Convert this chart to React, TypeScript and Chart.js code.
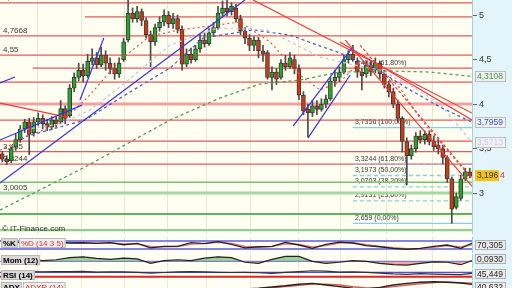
import React, { useEffect, useRef } from 'react';
import { Chart, registerables } from 'chart.js';
Chart.register(...registerables);

// ---------- DATA ----------
const candleOpen = [3.44,3.38,3.36,3.52,3.60,3.72,3.80,3.68,3.80,3.84,3.78,3.74,3.82,3.80,3.95,3.87,4.18,4.30,4.38,4.32,4.48,4.52,4.44,4.55,4.46,4.40,4.34,4.50,4.72,5.02,4.96,5.04,4.94,4.78,4.70,4.86,4.92,5.00,4.90,4.96,4.84,4.45,4.56,4.50,4.62,4.72,4.68,4.80,4.86,5.02,5.08,5.04,5.08,4.96,4.82,4.74,4.66,4.72,4.60,4.58,4.30,4.36,4.30,4.46,4.42,4.50,4.40,4.10,3.94,3.90,3.98,3.94,4.00,4.06,4.26,4.30,4.36,4.50,4.56,4.48,4.36,4.34,4.44,4.38,4.46,4.34,4.22,4.14,4.00,3.84,3.58,3.42,3.50,3.64,3.60,3.66,3.58,3.54,3.50,3.40,3.16,2.84,2.94,3.16,3.24];
const candleHigh = [3.47,3.42,3.52,3.66,3.76,3.83,3.84,3.85,3.90,3.88,3.83,3.86,3.86,4.04,3.98,4.22,4.35,4.46,4.45,4.56,4.62,4.58,4.64,4.60,4.52,4.46,4.52,4.74,5.20,5.08,5.10,5.07,4.97,4.82,4.90,4.98,5.06,5.04,5.02,5.00,4.88,4.62,4.63,4.66,4.78,4.80,4.85,4.92,5.10,5.16,5.20,5.14,5.12,5.00,4.86,4.78,4.76,4.75,4.66,4.60,4.42,4.40,4.50,4.55,4.58,4.55,4.44,4.14,4.00,4.04,4.04,4.06,4.10,4.30,4.38,4.42,4.55,4.60,4.66,4.52,4.40,4.48,4.48,4.52,4.48,4.38,4.26,4.18,4.04,3.86,3.62,3.54,3.68,3.70,3.70,3.70,3.64,3.60,3.54,3.42,3.18,3.00,3.20,3.28,3.28];
const candleLow = [3.35,3.32,3.34,3.48,3.57,3.68,3.43,3.64,3.76,3.72,3.70,3.71,3.74,3.78,3.78,3.85,4.14,4.26,4.25,4.30,4.44,4.40,4.42,4.38,4.34,4.28,4.30,4.48,4.70,4.92,4.92,4.88,4.74,4.42,4.66,4.82,4.88,4.86,4.85,4.80,4.38,4.42,4.46,4.48,4.58,4.64,4.66,4.76,4.84,4.98,4.99,5.00,4.92,4.78,4.68,4.60,4.60,4.52,4.48,4.28,4.16,4.22,4.28,4.38,4.40,4.34,4.05,3.88,3.63,3.86,3.88,3.92,3.96,4.04,4.20,4.25,4.34,4.46,4.48,4.30,4.16,4.30,4.32,4.35,4.28,4.18,4.08,3.96,3.80,3.46,3.09,3.38,3.46,3.56,3.55,3.54,3.48,3.44,3.33,3.12,2.66,2.82,2.92,3.14,3.17];
const candleClose = [3.38,3.35,3.50,3.60,3.72,3.80,3.66,3.80,3.84,3.78,3.74,3.82,3.78,3.95,3.84,4.18,4.30,4.38,4.32,4.48,4.52,4.44,4.55,4.46,4.40,4.34,4.46,4.70,5.02,4.96,5.04,4.94,4.78,4.70,4.86,4.92,5.00,4.90,4.96,4.84,4.45,4.56,4.50,4.62,4.72,4.68,4.80,4.86,5.02,5.08,5.04,5.10,4.96,4.82,4.74,4.66,4.72,4.60,4.56,4.30,4.36,4.28,4.46,4.42,4.52,4.40,4.10,3.92,3.90,3.98,3.94,4.00,4.06,4.26,4.30,4.36,4.50,4.56,4.50,4.36,4.32,4.44,4.36,4.46,4.34,4.22,4.14,4.00,3.84,3.58,3.42,3.50,3.64,3.60,3.66,3.58,3.52,3.50,3.40,3.16,2.82,2.96,3.16,3.24,3.196];

const priceTicks = [3, 3.5, 4, 4.5, 5];
const timeGrid = [7.9, 17.7, 27.3, 36.8, 45.5, 55.3, 66, 75.3, 85.5, 95.7];

const resistanceLevels = [5.1366, 4.98, 4.7668, 4.55, 4.404, 4.248, 4.0, 3.821, 3.584, 3.465, 3.3244];
const resistanceFrom = [-0.5, 18.4, -0.5, -0.5, 6.8, -0.5, -0.5, -0.5, -0.5, -0.5, -0.5];
const supportLevels = [3.123, 3.0005, 2.764, 2.584];
const levelLabelValues = [5.1366, 4.7668, 4.55, 3.465, 3.3244, 3.0005];
const levelLabelTexts = ['5,1366', '4,7668', '4,55', '3,465', '3,3244', '3,0005'];

const fibLevels = [3.7356, 3.3244, 3.1973, 3.0703, 2.9131, 2.659];
const fibTexts = ['3,7356 (100,00%)', '3,3244 (61,80%)', '3,1973 (50,00%)', '3,0703 (38,20%)', '2,9131 (23,60%)', '2,659 (0,00%)'];
const fibStart = 78;
const fibExtraValue = 4.404;
const fibExtraText = '4,4040 (61,80%)';

const maLongX = [-0.5, 18.4, 37.3, 48.4, 57.3, 66.2, 75.1, 86.3, 95.2, 104.5];
const maLongY = [2.809, 3.292, 3.821, 4.068, 4.225, 4.270, 4.360, 4.372, 4.360, 4.3108];
const maMidX = [3.95, 18.4, 28.4, 37.3, 44.7, 55.8, 64.0, 75.1, 82.5, 90.0, 97.4, 104.5];
const maMidY = [3.618, 3.821, 4.135, 4.405, 4.743, 4.833, 4.776, 4.574, 4.417, 4.180, 3.967, 3.7959];
const maFastX = [3.95, 12.85, 19.5, 26.2, 37.3, 47.8, 58.9, 70.7, 77.4, 84.0, 90.7, 97.4, 104.5];
const maFastY = [3.708, 3.776, 3.933, 4.192, 4.664, 4.855, 4.833, 4.529, 4.450, 4.383, 4.214, 4.0, 3.5713];
const maShortX = [-0.5, 6.2, 12.8, 19.5, 26.2, 32.9, 39.5, 46.2, 52.9, 59.6, 66.2, 70.7, 75.1, 79.6, 84.0, 88.5, 92.9, 97.4, 101.8, 104.5];
const maShortY = [3.483, 3.652, 3.776, 4.102, 4.495, 4.765, 4.833, 4.878, 4.923, 4.698, 4.327, 4.158, 4.248, 4.473, 4.405, 4.180, 3.843, 3.573, 3.315, 3.168];

const blueTrendlines = [
  [-0.5, 4.237, 2.84, 4.304],
  [-0.5, 3.112, 54.0, 5.17],
  [-0.5, 3.596, 17.74, 3.989],
  [17.3, 4.046, 22.6, 4.743],
  [64.7, 3.753, 77.8, 4.630],
  [68.0, 3.618, 77.4, 4.327],
];
const redTrendlines = [
  [-0.5, 4.012, 14.4, 3.854],
  [55.8, 5.17, 104.5, 3.899],
  [75.1, 4.698, 104.5, 3.821],
  [76.3, 4.72, 104.5, 3.078],
];
const redDashedTrendlines = [[79.6, 4.664, 104.5, 3.168]];

const maBoxValues = [4.3108, 3.7959, 3.5713];
const maBoxTexts = ['4,3108', '3,7959', '3,5713'];
const lastPrice = 3.196;
const lastPriceText = '3,196';
const lastPriceSuffix = '4';

const indicatorX = [0,3,6,9,12,15,18,21,24,27,30,33,36,39,42,45,48,51,54,57,60,63,66,69,72,75,78,81,84,87,90,93,96,99,102,105];
const stochK = [60,70,75,65,72,65,67,62,68,52,62,28,40,40,68,60,75,55,28,37,40,70,50,25,55,72,65,45,37,25,18,25,40,50,25,72];
const stochD = [62,66,72,70,70,68,66,64,66,58,58,40,36,38,55,62,70,62,40,33,38,58,55,35,45,65,68,52,40,30,22,22,32,45,35,55];
const stochLevels = [80, 20];
const momentum = [0.1,0.1,0.12,0.05,0.1,0.23,0.28,0.19,0.12,0.2,0.15,-0.12,0.05,0.1,0.05,0.2,0.28,0.23,-0.05,-0.12,0.12,0.3,0.3,0,-0.12,-0.05,0.05,0,-0.12,-0.19,-0.22,-0.12,-0.03,-0.05,-0.2,0.09];
const rsi = [72,74,76,75,77,76,78,72,75,74,70,62,68,74,76,74,70,68,70,66,60,70,76,84,80,72,74,70,62,55,52,58,54,52,48,62];
const rsiLevels = [70, 30];
const adx = [30,28,25,22,20,22,25,28,30,28,25,22,20,18,20,22,25,28,30,32,35,38,42,44,40,36,32,30,34,40,44,47,48,47,45,41];
const adxr = [28,27,26,24,22,21,22,25,28,29,27,24,21,19,19,21,23,26,29,31,33,36,39,42,42,40,36,33,33,36,40,43,46,47,46,44];

// ---------- STYLE ----------
const X_MIN = -0.5;
const X_MAX = 104.5;
const PLOT_BG = '#fefef1';
const GRID = '#ebe7d6';
const FONT = 'Liberation Sans';
const resistanceColors = ['#e65a5a','#e65a5a','#e65a5a','#e65a5a','#e65a5a','#e65a5a','#f2a0a0','#e65a5a','#e65a5a','#e65a5a','#e65a5a'];
const resistanceWidths = [1.3,1.3,1.3,1.3,1.3,1.3,3,1.3,1.3,1.3,1.3];
const supportColors = ['#78c078', '#a6d8a6', '#2e982e', '#92cf92'];
const supportWidths = [1.5, 3, 1.6, 2.2];
const fibDashed = [false, true, true, true, true, false];

const seg = (x1: number, y1: number, x2: number, y2: number) => [{ x: x1, y: y1 }, { x: x2, y: y2 }];
const pts = (xs: number[], ys: number[]) => xs.map((x, i) => ({ x, y: ys[i] }));

const xAxis = () => ({
  type: 'linear', min: X_MIN, max: X_MAX, offset: false,
  afterBuildTicks: (s: any) => { s.ticks = timeGrid.map((v) => ({ value: v })); },
  ticks: { display: false },
  grid: { color: GRID, drawTicks: false, offset: false, lineWidth: 1 },
  border: { display: false },
  afterFit: (s: any) => { s.height = 0; s.paddingLeft = 0; s.paddingRight = 0; s.paddingTop = 0; s.paddingBottom = 0; },
});

function lineDs(data: any[], color: string, width: number, dash: number[] = [], order = 0, extra: any = {}) {
  return { type: 'line', data, borderColor: color, borderWidth: width, borderDash: dash, pointRadius: 0, fill: false, tension: 0, order, ...extra };
}

function bgPlugin(id: string) {
  return {
    id,
    beforeDraw(chart: any) {
      const { ctx, chartArea: a } = chart;
      ctx.save();
      ctx.fillStyle = PLOT_BG;
      ctx.fillRect(a.left, a.top, a.right - a.left, a.bottom - a.top);
      ctx.restore();
    },
  };
}

function drawBox(ctx: any, x: number, yc: number, text: string, color: string, bg: string, border: string | null, w = 31, h = 11) {
  ctx.fillStyle = bg;
  ctx.fillRect(x, yc - h / 2, w, h);
  if (border) {
    ctx.strokeStyle = border;
    ctx.lineWidth = 1;
    ctx.strokeRect(x + 0.5, Math.round(yc - h / 2) + 0.5, w - 1, h - 1);
  }
  ctx.fillStyle = color;
  ctx.textBaseline = 'middle';
  ctx.textAlign = 'left';
  ctx.fillText(text, x + 2, yc + 0.5);
}

const mainOverlay = {
  id: 'mainOverlay',
  beforeDatasetsDraw(chart: any) {
    const { ctx, chartArea: a, scales } = chart;
    const y = scales.y, x = scales.x;
    ctx.save();
    ctx.font = `8px "${FONT}"`;
    ctx.fillStyle = '#3a3a3a';
    ctx.textBaseline = 'bottom';
    levelLabelValues.forEach((v, i) => ctx.fillText(levelLabelTexts[i], a.left + 3, y.getPixelForValue(v) - 1));
    ctx.font = `7px "${FONT}"`;
    const fx = x.getPixelForValue(fibStart) + 2;
    fibLevels.forEach((v, i) => ctx.fillText(fibTexts[i], fx, y.getPixelForValue(v) - 2));
    ctx.fillText(fibExtraText, fx, y.getPixelForValue(fibExtraValue) - 2);
    ctx.restore();
  },
  afterDraw(chart: any) {
    const { ctx, chartArea: a, scales } = chart;
    const y = scales.y;
    ctx.save();
    ctx.font = `8px "${FONT}"`;
    ctx.fillStyle = '#333';
    ctx.textBaseline = 'bottom';
    ctx.fillText('© IT-Finance.com', a.left + 2, a.bottom - 1);
    ctx.font = `8.5px "${FONT}"`;
    const colors = ['#3d9a4f', '#3552c4', '#c9c9ee'];
    maBoxValues.forEach((v, i) => drawBox(ctx, a.right + 3, y.getPixelForValue(v), maBoxTexts[i], colors[i], '#f1f1f1', '#bdbdbd'));
    const ly = y.getPixelForValue(lastPrice);
    drawBox(ctx, a.right + 3, ly, lastPriceText, '#333', '#f4c414', null, 24, 11);
    ctx.fillStyle = '#e02020';
    ctx.fillText(lastPriceSuffix, a.right + 28, ly + 0.5);
    ctx.restore();
  },
};

function mainConfig(): any {
  const datasets: any[] = [];
  resistanceLevels.forEach((v, i) => datasets.push(lineDs(seg(resistanceFrom[i], v, X_MAX, v), resistanceColors[i], resistanceWidths[i], [], 5)));
  supportLevels.forEach((v, i) => datasets.push(lineDs(seg(X_MIN, v, X_MAX, v), supportColors[i], supportWidths[i], [], 5)));
  fibLevels.forEach((v, i) => datasets.push(lineDs(seg(fibStart, v, X_MAX, v), '#8ccbee', 1.3, fibDashed[i] ? [4, 3] : [], 4)));
  datasets.push({
    type: 'bar', grouped: false, order: 3, barThickness: 1,
    data: candleOpen.map((_, i) => ({ x: i, y: [candleLow[i], candleHigh[i]] })),
    backgroundColor: '#4a4a4a', borderWidth: 0,
  });
  datasets.push({
    type: 'bar', grouped: false, order: 2, barThickness: 4,
    data: candleOpen.map((o, i) => ({ x: i, y: [Math.min(o, candleClose[i]), Math.max(o, candleClose[i])] })),
    backgroundColor: candleOpen.map((o, i) => (candleClose[i] >= o ? '#25a825' : '#cf3a14')),
    borderColor: '#3a3a3a', borderWidth: 1, borderSkipped: false,
  });
  datasets.push(lineDs(pts(maLongX, maLongY), '#4f9d5f', 1.3, [3, 3], 1));
  datasets.push(lineDs(pts(maFastX, maFastY), '#c4c6ef', 1.3, [3, 3], 1));
  datasets.push(lineDs(pts(maMidX, maMidY), '#4563c4', 1.3, [3, 3], 1));
  datasets.push(lineDs(pts(maShortX, maShortY), '#e65050', 1.2, [2, 3], 1));
  blueTrendlines.forEach((t) => datasets.push(lineDs(seg(t[0], t[1], t[2], t[3]), '#3434e6', 1.2, [], 0)));
  redTrendlines.forEach((t) => datasets.push(lineDs(seg(t[0], t[1], t[2], t[3]), '#f03a3a', 1.2, [], 0)));
  redDashedTrendlines.forEach((t) => datasets.push(lineDs(seg(t[0], t[1], t[2], t[3]), '#f03a3a', 1.2, [3, 2], 0)));
  return {
    type: 'bar',
    data: { datasets },
    options: {
      responsive: false, animation: false, events: [],
      layout: { padding: 0 },
      plugins: { legend: { display: false }, tooltip: { enabled: false } },
      scales: {
        x: xAxis(),
        y: {
          position: 'right', min: 2.54, max: 5.17,
          afterBuildTicks: (s: any) => { s.ticks = priceTicks.map((v) => ({ value: v })); },
          ticks: { callback: (v: any) => String(v).replace('.', ','), color: '#333', font: { family: FONT, size: 9 }, padding: 2 },
          grid: { drawOnChartArea: false, tickLength: 5, color: '#666' },
          border: { color: '#9fd0e2' },
          afterFit: (s: any) => { s.width = 40; s.paddingTop = 0; s.paddingBottom = 0; },
        },
      },
    },
    plugins: [bgPlugin('mainBg'), mainOverlay],
  };
}

function panelConfig(datasets: any[], yMin: number, yMax: number, labels: any[], valueText: string, boxOffset: number): any {
  const overlay = {
    id: 'panelOverlay',
    afterDraw(chart: any) {
      const { ctx, chartArea: a } = chart;
      ctx.save();
      let x = a.left + 1;
      labels.forEach((l) => {
        ctx.font = `${l.bold ? 'bold ' : ''}8px "${FONT}"`;
        const w = ctx.measureText(l.text).width + 4;
        ctx.fillStyle = l.bg;
        ctx.fillRect(x, a.top + 1, w, 10);
        ctx.strokeStyle = '#b8b8b8';
        ctx.lineWidth = 1;
        ctx.strokeRect(x + 0.5, a.top + 1.5, w - 1, 9);
        ctx.fillStyle = l.color;
        ctx.textBaseline = 'middle';
        ctx.fillText(l.text, x + 2, a.top + 6.5);
        x += w + 1;
      });
      ctx.font = `8.5px "${FONT}"`;
      drawBox(ctx, a.right + 3, a.top + boxOffset, valueText, '#222', '#ececec', '#b0b0b0', 31, 10);
      ctx.restore();
    },
  };
  return {
    type: 'line',
    data: { datasets },
    options: {
      responsive: false, animation: false, events: [],
      layout: { padding: 0 },
      plugins: { legend: { display: false }, tooltip: { enabled: false } },
      scales: {
        x: xAxis(),
        y: {
          position: 'right', min: yMin, max: yMax,
          ticks: { display: false },
          grid: { drawOnChartArea: false, drawTicks: false },
          border: { color: '#9fd0e2' },
          afterFit: (s: any) => { s.width = 40; s.paddingTop = 0; s.paddingBottom = 0; },
        },
      },
    },
    plugins: [bgPlugin('panelBg'), overlay],
  };
}

export default function App() {
  const mainRef = useRef<HTMLCanvasElement>(null);
  const stochRef = useRef<HTMLCanvasElement>(null);
  const momRef = useRef<HTMLCanvasElement>(null);
  const rsiRef = useRef<HTMLCanvasElement>(null);
  const adxRef = useRef<HTMLCanvasElement>(null);

  useEffect(() => {
    document.body.style.margin = '0';
    const charts: Chart[] = [];
    charts.push(new Chart(mainRef.current as any, mainConfig()));

    const stochDs = [
      ...stochLevels.map((v) => lineDs(seg(X_MIN, v, X_MAX, v), '#5a5ae6', 1.4, [], 2)),
      lineDs(pts(indicatorX, stochD), '#ec7474', 1.4, [], 1),
      lineDs(pts(indicatorX, stochK), '#222', 1.3, [], 0),
    ];
    charts.push(new Chart(stochRef.current as any, panelConfig(stochDs, -10, 110,
      [{ text: '%K', color: '#000', bg: '#d9d9d9', bold: true }, { text: '%D (14 3 5)', color: '#e03030', bg: '#f1eeee', bold: false }], '70,305', 8)));

    const momDs = [
      lineDs(seg(X_MIN, 0, X_MAX, 0), '#7a7aee', 1.4, [], 2),
      lineDs(pts(indicatorX, momentum), '#222', 1.2, [], 0, {
        fill: { target: { value: 0 }, above: 'rgba(96,178,96,0.6)', below: 'rgba(232,110,110,0.6)' },
      }),
    ];
    charts.push(new Chart(momRef.current as any, panelConfig(momDs, -0.4, 0.45,
      [{ text: 'Mom (12)', color: '#000', bg: '#d9d9d9', bold: true }], '0,0930', 5)));

    const rsiDs = [
      lineDs(seg(X_MIN, rsiLevels[0], X_MAX, rsiLevels[0]), '#4c4ce6', 1.3, [], 2),
      lineDs(seg(X_MIN, rsiLevels[1], X_MAX, rsiLevels[1]), '#e02424', 2, [], 2),
      lineDs(pts(indicatorX, rsi), '#333', 1.2, [], 0),
    ];
    charts.push(new Chart(rsiRef.current as any, panelConfig(rsiDs, 0, 100,
      [{ text: 'RSI (14)', color: '#000', bg: '#d9d9d9', bold: true }], '45,449', 5)));

    const adxDs = [
      lineDs(pts(indicatorX, adxr), '#e05050', 1.3, [], 1),
      lineDs(pts(indicatorX, adx), '#222', 1.4, [], 0),
    ];
    charts.push(new Chart(adxRef.current as any, panelConfig(adxDs, 0, 50,
      [{ text: 'ADX', color: '#000', bg: '#d9d9d9', bold: true }, { text: 'ADXR (14)', color: '#e03030', bg: '#f1eeee', bold: false }], '40,632', 6)));

    return () => charts.forEach((c) => c.destroy());
  }, []);

  const abs = (top: number): React.CSSProperties => ({ position: 'absolute', left: 0, top });
  return (
    <div style={{ position: 'relative', width: 512, height: 288, overflow: 'hidden', background: '#ffffff' }}>
      <div style={{ position: 'absolute', left: 472, top: 0, width: 40, height: 288, background: '#e3f5fa' }} />
      <canvas ref={mainRef} width={512} height={234} style={abs(0)} />
      <canvas ref={stochRef} width={512} height={16} style={abs(237)} />
      <canvas ref={momRef} width={512} height={14} style={abs(254)} />
      <canvas ref={rsiRef} width={512} height={11} style={abs(269)} />
      <canvas ref={adxRef} width={512} height={20} style={abs(281)} />
    </div>
  );
}
